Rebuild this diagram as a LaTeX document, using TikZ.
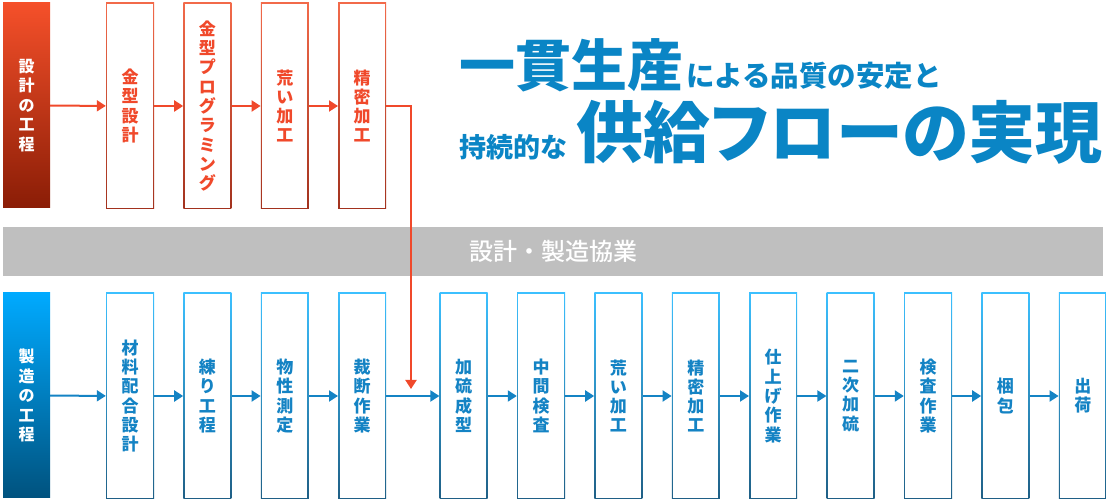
\documentclass[tikz,border=0pt]{standalone}
\usepackage{fontspec}
\setmainfont{Noto Sans CJK JP}
\newfontfamily\paltfont{Noto Sans CJK JP}[RawFeature=+palt]
\newfontfamily\medfont{Noto Sans CJK JP Medium}
\usepackage{xcolor}
\usetikzlibrary{positioning, arrows.meta}

\definecolor{dsgtop}{HTML}{F5502A}
\definecolor{dsgbot}{HTML}{8A1D06}
\definecolor{dsgedgetop}{HTML}{F26A4A}
\definecolor{dsgedgebot}{HTML}{A2321E}
\definecolor{dsgtext}{HTML}{F0492B}
\definecolor{mfgtop}{HTML}{00AAFF}
\definecolor{mfgbot}{HTML}{00527E}
\definecolor{mfgedgetop}{HTML}{3CC0FF}
\definecolor{mfgedgebot}{HTML}{1F5F85}
\definecolor{mfgtext}{HTML}{1483C4}
\definecolor{titleblue}{HTML}{0A85C5}
\definecolor{bandgray}{HTML}{BFBFBF}

\begin{document}
\begin{tikzpicture}[
    x=1pt, y=1pt,
    node distance=29pt,
    lab/.style={minimum width=47pt, minimum height=205pt, inner sep=0pt, align=center, text=white, font=\bfseries\fontsize{16}{19.5}\selectfont},
    proc/.style={minimum width=48pt, minimum height=206pt, inner sep=0pt, align=center, font=\bfseries\fontsize{17}{19.3}\selectfont,
        path picture={\fill[white] ([shift={(1.4pt,1.4pt)}]path picture bounding box.south west) rectangle ([shift={(-1.4pt,-1.4pt)}]path picture bounding box.north east);}},
    dbox/.style={proc, top color=dsgedgetop, bottom color=dsgedgebot, text=dsgtext},
    mbox/.style={proc, top color=mfgedgetop, bottom color=mfgedgebot, text=mfgtext},
    headline/.style={anchor=base west, inner sep=0pt, text=titleblue},
    darrow/.style={draw=dsgtext, line width=2pt, -{Triangle[length=9pt,width=11pt]}},
    marrow/.style={draw=mfgtext, line width=2pt, -{Triangle[length=9pt,width=11pt]}}
]
\useasboundingbox (0,0) rectangle (1106,503);

% design row
\node[lab, top color=dsgtop, bottom color=dsgbot] (dlab) at (26.5,397.5) {設\\計\\の\\工\\程};
\node[dbox] (d1) at (130,397) {金\\型\\設\\計};
\node[dbox, right=of d1] (d2) {金\\型\\プ\\ロ\\グ\\ラ\\ミ\\ン\\グ};
\node[dbox, right=of d2] (d3) {荒\\い\\加\\工};
\node[dbox, right=of d3] (d4) {精\\密\\加\\工};

% title
\node[headline] (title1) at (459,416)
    {\paltfont\bfseries\fontsize{56}{56}\selectfont 一貫生産\hspace{3pt}\normalfont\bfseries\fontsize{28.5}{28.5}\selectfont による品質の安定と};
\node[headline] (title2) at (459,345.5)
    {\bfseries\fontsize{27}{27}\selectfont 持続的な\hspace{9pt}\paltfont\bfseries\fontsize{67}{67}\selectfont 供給フローの実現};

% band
\node[fill=bandgray, minimum width=1100pt, minimum height=49pt, inner sep=0pt, text=white, font=\medfont\fontsize{24}{24}\selectfont] (coop) at (553,251.5) {設計・製造協業};

% manufacturing row
\node[lab, top color=mfgtop, bottom color=mfgbot] (mlab) at (26.5,107.5) {製\\造\\の\\工\\程};
\node[mbox] (m1) at (130,107) {材\\料\\配\\合\\設\\計};
\node[mbox, right=of m1] (m2) {練\\り\\工\\程};
\node[mbox, right=of m2] (m3) {物\\性\\測\\定};
\node[mbox, right=of m3] (m4) {裁\\断\\作\\業};
\node[mbox, right=53pt of m4] (m5) {加\\硫\\成\\型};
\node[mbox, right=of m5] (m6) {中\\間\\検\\査};
\node[mbox, right=of m6] (m7) {荒\\い\\加\\工};
\node[mbox, right=of m7] (m8) {精\\密\\加\\工};
\node[mbox, right=of m8] (m9) {仕\\上\\げ\\作\\業};
\node[mbox, right=of m9] (m10) {二\\次\\加\\硫};
\node[mbox, right=of m10] (m11) {検\\査\\作\\業};
\node[mbox, right=of m11] (m12) {梱\\包};
\node[mbox, right=of m12] (m13) {出\\荷};

% connectors
\foreach \a/\b in {dlab/d1, d1/d2, d2/d3, d3/d4}
    \draw[darrow] (\a) -- (\b);
\foreach \a/\b in {mlab/m1, m1/m2, m2/m3, m3/m4, m4/m5, m5/m6, m6/m7, m7/m8, m8/m9, m9/m10, m10/m11, m11/m12, m12/m13}
    \draw[marrow] (\a) -- (\b);
\coordinate (merge) at (411,114);
\draw[darrow] (d4.east) -| (merge);

\end{tikzpicture}
\end{document}
